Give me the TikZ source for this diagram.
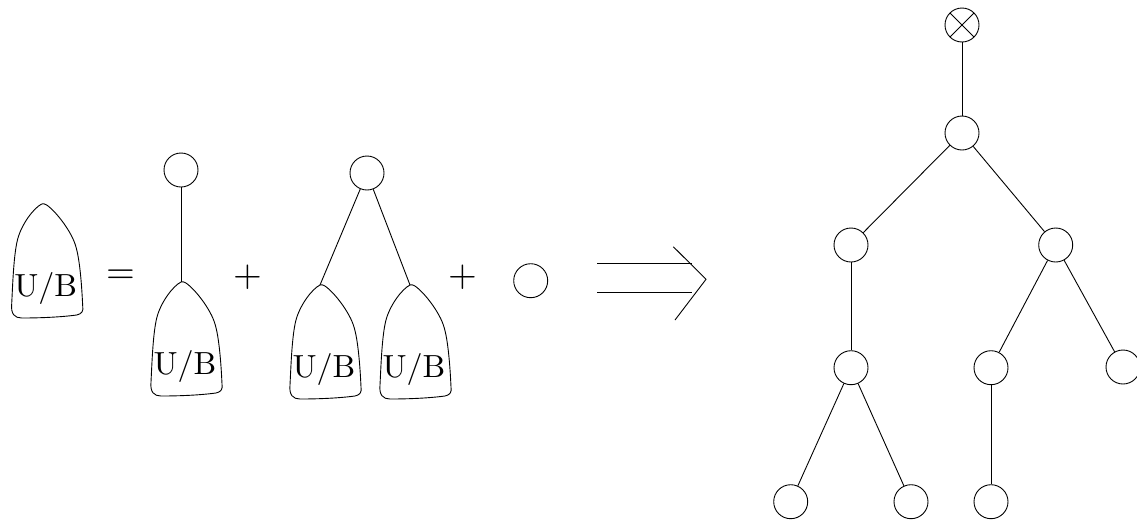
\documentclass[tikz,border=0pt]{standalone}
\usepackage{fontspec}
\newfontfamily\ubfont{lmroman10-regular}[Extension=.otf]
\begin{document}
\begin{tikzpicture}[x=1pt,y=-1pt,line width=0.9pt,
  vtx/.style={circle,draw,minimum size=34,inner sep=0pt},
  otimesvtx/.style={vtx,path picture={
     \draw (path picture bounding box.north west) -- (path picture bounding box.south east)
           (path picture bounding box.north east) -- (path picture bounding box.south west);}},
  ublabel/.style={anchor=base,inner sep=0pt,font=\ubfont\fontsize{32}{38}\selectfont},
  opsym/.style={anchor=base,inner sep=0pt,font=\ubfont\fontsize{37}{44}\selectfont},
  ub/.pic={
    \draw (0,0) .. controls (-8,4) and (-20,20) .. (-24,35)
      .. controls (-28,50) and (-29,80) .. (-30,100)
      .. controls (-31,110) and (-27,114) .. (-20,114)
      .. controls (0,114) and (20,113) .. (35,111)
      .. controls (40,110) and (42,107) .. (41,102)
      .. controls (40,80) and (38,55) .. (34,42)
      .. controls (30,28) and (15,8) .. (5,1)
      .. controls (3,-0.5) and (1,-0.5) .. (0,0);
    \coordinate (-top) at (0,0);
    \node[ublabel] (-lbl) at (4,92) {U/B};
  }]
\useasboundingbox (0,0) rectangle (1137,520);

% left side equation
\pic (s1) at (41.7,204) {ub};
\node[opsym] (eq) at (120.5,283.5) {=};
\node[vtx] (c1) at (181,170) {};
\pic (s2) at (181,282) {ub};
\draw (c1) -- (s2-top);
\node[opsym] (p1) at (247.5,286) {+};
\node[vtx] (c2) at (367,173) {};
\pic (s3) at (320,285) {ub};
\pic (s4) at (410,285) {ub};
\draw (c2) -- (s3-top);
\draw (c2) -- (s4-top);
\node[opsym] (p2) at (463,286) {+};
\node[vtx] (c3) at (530.7,280.7) {};

% implies arrow
\draw (597,263.3) -- (692,263.3);
\draw (597,292.3) -- (692,292.3);
\draw (673.3,246.7) -- (706,279.3) -- (675,320);

% right tree
\node[otimesvtx] (r) at (962,25) {};
\node[vtx] (a) at (962,133) {};
\node[vtx] (b) at (851,245) {};
\node[vtx] (c) at (1055.7,245) {};
\node[vtx] (d) at (851,367.7) {};
\node[vtx] (e) at (991,367.7) {};
\node[vtx] (f) at (1123,367) {};
\node[vtx] (g) at (790.7,501.7) {};
\node[vtx] (h) at (911,501.7) {};
\node[vtx] (i) at (991,501.7) {};
\draw (r) -- (a);
\draw (a) -- (b);
\draw (a) -- (c);
\draw (b) -- (d);
\draw (c) -- (e);
\draw (c) -- (f);
\draw (d) -- (g);
\draw (d) -- (h);
\draw (e) -- (i);
\end{tikzpicture}
\end{document}
